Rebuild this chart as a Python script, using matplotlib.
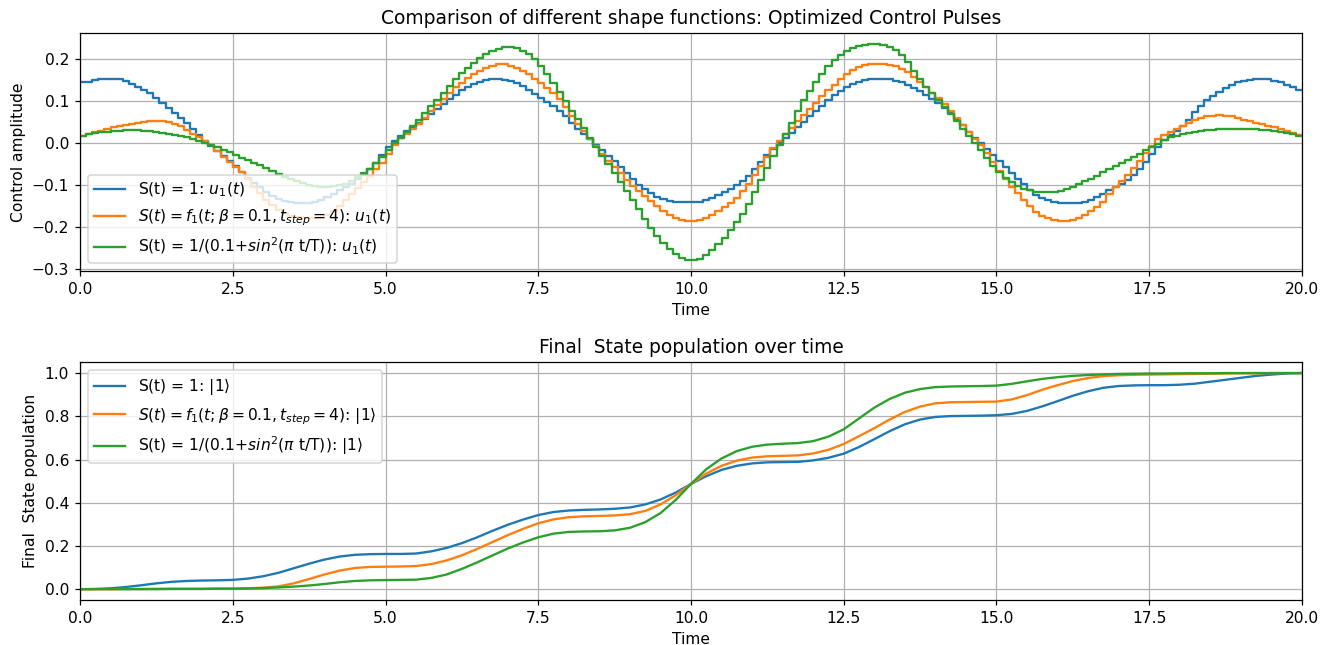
import numpy as np
import matplotlib
matplotlib.use('Agg')
import matplotlib.pyplot as plt

# time grid of the piecewise-constant pulses (200 intervals of 0.1)
t_edges = np.linspace(0, 20, 201)

u_const = [
    0.145, 0.147, 0.150, 0.152, 0.154, 0.154, 0.152, 0.148, 0.142, 0.135,
    0.127, 0.119, 0.108, 0.097, 0.085, 0.073, 0.061, 0.048, 0.034, 0.020,
    0.006, -0.006, -0.018, -0.031, -0.043, -0.055, -0.068, -0.082, -0.095, -0.105,
    -0.116, -0.125, -0.132, -0.137, -0.141, -0.143, -0.143, -0.142, -0.140, -0.135,
    -0.128, -0.120, -0.112, -0.104, -0.096, -0.086, -0.075, -0.062, -0.046, -0.028,
    -0.010, 0.006, 0.018, 0.029, 0.039, 0.048, 0.058, 0.070, 0.082, 0.094,
    0.105, 0.116, 0.126, 0.135, 0.142, 0.147, 0.150, 0.152, 0.152, 0.151,
    0.148, 0.143, 0.136, 0.127, 0.118, 0.109, 0.099, 0.089, 0.078, 0.064,
    0.049, 0.034, 0.022, 0.010, -0.003, -0.016, -0.030, -0.043, -0.056, -0.071,
    -0.086, -0.099, -0.110, -0.119, -0.127, -0.133, -0.137, -0.140, -0.141, -0.141,
    -0.141, -0.140, -0.136, -0.130, -0.123, -0.116, -0.108, -0.099, -0.089, -0.078,
    -0.062, -0.045, -0.028, -0.013, 0.001, 0.012, 0.025, 0.038, 0.051, 0.064,
    0.077, 0.090, 0.103, 0.115, 0.125, 0.134, 0.141, 0.147, 0.151, 0.153,
    0.154, 0.154, 0.152, 0.149, 0.145, 0.139, 0.132, 0.124, 0.116, 0.105,
    0.095, 0.084, 0.073, 0.058, 0.043, 0.027, 0.013, 0.001, -0.013, -0.028,
    -0.043, -0.057, -0.071, -0.085, -0.098, -0.112, -0.123, -0.131, -0.136, -0.139,
    -0.142, -0.143, -0.143, -0.142, -0.139, -0.135, -0.128, -0.120, -0.112, -0.104,
    -0.096, -0.088, -0.076, -0.061, -0.045, -0.025, -0.008, 0.007, 0.019, 0.029,
    0.040, 0.056, 0.074, 0.090, 0.102, 0.113, 0.123, 0.132, 0.139, 0.145,
    0.149, 0.151, 0.152, 0.153, 0.152, 0.149, 0.145, 0.140, 0.134, 0.127,
]

u_flattop = [
    0.017, 0.021, 0.026, 0.030, 0.034, 0.038, 0.041, 0.044, 0.047, 0.049,
    0.051, 0.052, 0.053, 0.053, 0.051, 0.047, 0.040, 0.032, 0.023, 0.014,
    0.005, -0.004, -0.018, -0.033, -0.045, -0.056, -0.068, -0.085, -0.103, -0.118,
    -0.134, -0.148, -0.158, -0.167, -0.173, -0.176, -0.178, -0.179, -0.179, -0.177,
    -0.172, -0.162, -0.149, -0.135, -0.121, -0.106, -0.092, -0.078, -0.062, -0.046,
    -0.025, -0.005, 0.012, 0.023, 0.034, 0.046, 0.061, 0.076, 0.091, 0.106,
    0.121, 0.133, 0.144, 0.155, 0.164, 0.172, 0.179, 0.185, 0.188, 0.188,
    0.185, 0.180, 0.173, 0.164, 0.154, 0.144, 0.132, 0.119, 0.105, 0.086,
    0.066, 0.047, 0.029, 0.011, -0.007, -0.025, -0.042, -0.057, -0.072, -0.087,
    -0.102, -0.114, -0.125, -0.137, -0.150, -0.161, -0.171, -0.179, -0.184, -0.185,
    -0.185, -0.182, -0.177, -0.170, -0.162, -0.153, -0.143, -0.130, -0.114, -0.096,
    -0.075, -0.053, -0.032, -0.012, 0.006, 0.022, 0.037, 0.052, 0.067, 0.082,
    0.097, 0.112, 0.126, 0.140, 0.153, 0.166, 0.175, 0.182, 0.187, 0.189,
    0.190, 0.189, 0.187, 0.183, 0.178, 0.170, 0.159, 0.147, 0.134, 0.121,
    0.107, 0.093, 0.078, 0.061, 0.043, 0.026, 0.011, -0.003, -0.022, -0.045,
    -0.067, -0.086, -0.103, -0.119, -0.134, -0.150, -0.163, -0.173, -0.179, -0.183,
    -0.185, -0.185, -0.182, -0.177, -0.170, -0.162, -0.152, -0.139, -0.122, -0.104,
    -0.090, -0.076, -0.060, -0.042, -0.024, -0.006, 0.010, 0.020, 0.028, 0.035,
    0.042, 0.049, 0.055, 0.060, 0.064, 0.066, 0.067, 0.066, 0.064, 0.060,
    0.056, 0.052, 0.049, 0.045, 0.042, 0.038, 0.034, 0.030, 0.025, 0.019,
]

u_sin = [
    0.018, 0.021, 0.024, 0.026, 0.028, 0.029, 0.030, 0.031, 0.031, 0.031,
    0.030, 0.029, 0.027, 0.025, 0.023, 0.020, 0.017, 0.014, 0.010, 0.006,
    0.001, -0.004, -0.009, -0.015, -0.021, -0.027, -0.034, -0.040, -0.046, -0.052,
    -0.058, -0.065, -0.073, -0.080, -0.086, -0.091, -0.095, -0.099, -0.101, -0.103,
    -0.103, -0.102, -0.100, -0.096, -0.089, -0.081, -0.072, -0.061, -0.048, -0.033,
    -0.016, 0.000, 0.013, 0.026, 0.040, 0.055, 0.072, 0.088, 0.104, 0.121,
    0.137, 0.152, 0.167, 0.180, 0.192, 0.203, 0.212, 0.219, 0.225, 0.229,
    0.229, 0.226, 0.220, 0.212, 0.200, 0.185, 0.166, 0.144, 0.122, 0.100,
    0.077, 0.057, 0.037, 0.013, -0.010, -0.030, -0.050, -0.071, -0.092, -0.113,
    -0.134, -0.157, -0.181, -0.202, -0.220, -0.237, -0.252, -0.265, -0.274, -0.278,
    -0.278, -0.275, -0.266, -0.255, -0.241, -0.225, -0.207, -0.188, -0.168, -0.144,
    -0.117, -0.088, -0.059, -0.030, -0.003, 0.023, 0.048, 0.076, 0.103, 0.125,
    0.146, 0.166, 0.185, 0.199, 0.210, 0.219, 0.226, 0.231, 0.235, 0.237,
    0.237, 0.235, 0.230, 0.223, 0.210, 0.193, 0.173, 0.153, 0.134, 0.119,
    0.103, 0.087, 0.070, 0.052, 0.034, 0.017, 0.000, -0.017, -0.036, -0.055,
    -0.069, -0.082, -0.092, -0.101, -0.108, -0.112, -0.115, -0.117, -0.117, -0.116,
    -0.113, -0.110, -0.104, -0.098, -0.091, -0.084, -0.077, -0.069, -0.062, -0.055,
    -0.048, -0.040, -0.033, -0.025, -0.017, -0.010, -0.001, 0.008, 0.014, 0.018,
    0.021, 0.024, 0.027, 0.029, 0.031, 0.032, 0.033, 0.033, 0.033, 0.033,
    0.033, 0.033, 0.033, 0.032, 0.031, 0.029, 0.027, 0.024, 0.021, 0.018,
]

# population of |1> sampled every 0.25
t_pop = np.linspace(0, 20, 81)

pop_const = [
    0.000, 0.001, 0.004, 0.010, 0.018, 0.027, 0.034, 0.038, 0.040, 0.041,
    0.043, 0.049, 0.060, 0.076, 0.097, 0.118, 0.137, 0.151, 0.159, 0.162,
    0.163, 0.163, 0.165, 0.175, 0.191, 0.213, 0.240, 0.270, 0.298, 0.322,
    0.343, 0.357, 0.364, 0.367, 0.369, 0.372, 0.378, 0.392, 0.415, 0.447,
    0.487, 0.523, 0.552, 0.571, 0.582, 0.587, 0.588, 0.589, 0.596, 0.608,
    0.627, 0.658, 0.694, 0.731, 0.763, 0.785, 0.797, 0.801, 0.802, 0.803,
    0.805, 0.811, 0.825, 0.846, 0.870, 0.895, 0.916, 0.932, 0.940, 0.943,
    0.944, 0.944, 0.946, 0.951, 0.960, 0.969, 0.978, 0.987, 0.993, 0.998,
    1.000,
]

pop_flattop = [
    0.000, 0.000, 0.000, 0.001, 0.001, 0.002, 0.002, 0.002, 0.002, 0.003,
    0.003, 0.004, 0.007, 0.013, 0.027, 0.047, 0.068, 0.086, 0.098, 0.103,
    0.104, 0.105, 0.107, 0.116, 0.133, 0.157, 0.186, 0.218, 0.250, 0.279,
    0.305, 0.323, 0.333, 0.337, 0.339, 0.341, 0.347, 0.362, 0.392, 0.435,
    0.487, 0.535, 0.571, 0.595, 0.609, 0.615, 0.617, 0.619, 0.628, 0.645,
    0.672, 0.708, 0.745, 0.785, 0.820, 0.845, 0.860, 0.865, 0.866, 0.867,
    0.868, 0.878, 0.898, 0.923, 0.944, 0.963, 0.977, 0.986, 0.990, 0.992,
    0.993, 0.994, 0.995, 0.996, 0.997, 0.998, 0.999, 0.999, 1.000, 1.000,
    1.000,
]

pop_sin = [
    0.000, 0.000, 0.000, 0.000, 0.000, 0.000, 0.001, 0.001, 0.001, 0.002,
    0.002, 0.003, 0.005, 0.008, 0.012, 0.017, 0.024, 0.032, 0.038, 0.041,
    0.042, 0.043, 0.044, 0.052, 0.068, 0.094, 0.124, 0.156, 0.188, 0.216,
    0.240, 0.257, 0.265, 0.267, 0.268, 0.272, 0.284, 0.310, 0.352, 0.413,
    0.487, 0.555, 0.605, 0.639, 0.659, 0.669, 0.673, 0.676, 0.685, 0.706,
    0.740, 0.790, 0.840, 0.880, 0.909, 0.926, 0.935, 0.938, 0.939, 0.940,
    0.942, 0.950, 0.962, 0.973, 0.981, 0.987, 0.991, 0.994, 0.996, 0.997,
    0.998, 0.998, 0.999, 0.999, 0.999, 1.000, 1.000, 1.000, 1.000, 1.000,
    1.000,
]

labels_u = [r'S(t) = 1: $u_1(t)$',
            r'$S(t) = f_1(t; \beta = 0.1, t_{step} = 4)$: $u_1(t)$',
            r'S(t) = 1/(0.1+$sin^2$($\pi$ t/T)): $u_1(t)$']
labels_p = [r'S(t) = 1: $|1\rangle$',
            r'$S(t) = f_1(t; \beta = 0.1, t_{step} = 4)$: $|1\rangle$',
            r'S(t) = 1/(0.1+$sin^2$($\pi$ t/T)): $|1\rangle$']

dpi = 112
fig, (ax1, ax2) = plt.subplots(2, 1, figsize=(1321 / dpi, 645 / dpi), dpi=dpi)
fig.subplots_adjust(left=0.0606, right=0.9856, top=0.9488, bottom=0.0698, hspace=0.385)

for u, lab in zip([u_const, u_flattop, u_sin], labels_u):
    ax1.step(t_edges, list(u) + [u[-1]], where='post', label=lab)
ax1.set_xlim(0, 20)
ax1.set_title('Comparison of different shape functions: Optimized Control Pulses')
ax1.set_xlabel('Time')
ax1.set_ylabel('Control amplitude')
ax1.grid(True)
ax1.legend(loc='lower left')

for p, lab in zip([pop_const, pop_flattop, pop_sin], labels_p):
    ax2.plot(t_pop, p, label=lab)
ax2.set_xlim(0, 20)
ax2.set_title('Final  State population over time')
ax2.set_xlabel('Time')
ax2.set_ylabel('Final  State population')
ax2.grid(True)
ax2.legend(loc='upper left')

fig.savefig('out.png', dpi=dpi)
